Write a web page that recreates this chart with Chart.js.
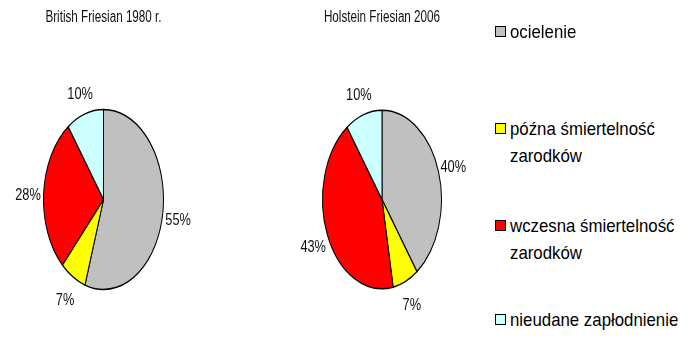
<!DOCTYPE html>
<html><head><meta charset="utf-8">
<script src="https://cdn.jsdelivr.net/npm/chart.js@4/dist/chart.umd.min.js"></script>
<style>
html,body{margin:0;padding:0;background:#fff;width:695px;height:347px;overflow:hidden;}
#wrap{position:relative;width:695px;height:347px;}
canvas{position:absolute;}
.title{position:absolute;top:8px;font-family:"Liberation Sans",Arial,sans-serif;font-size:16px;color:#111;text-align:center;white-space:nowrap;transform:scaleX(0.73);transform-origin:center;}
.leg{position:absolute;left:495px;font-family:"Liberation Sans",Arial,sans-serif;font-size:19px;line-height:27px;color:#000;}
.leg .box{position:absolute;left:0;top:8px;width:9px;height:9px;border:1px solid #000;}
.leg .txt{position:absolute;left:15px;white-space:nowrap;transform:scaleX(0.885);transform-origin:left;}
</style></head>
<body><div id="wrap">
<canvas id="c1" width="207" height="347" style="left:0;top:0;width:207px;height:347px"></canvas>
<canvas id="c2" width="202" height="347" style="left:281px;top:0;width:202px;height:347px"></canvas>
<div class="title" id="t1" style="left:0;width:207px"></div>
<div class="title" id="t2" style="left:281px;width:202px"></div>
</div>
<script>
const categories = ["ocielenie", "późna śmiertelność zarodków", "wczesna śmiertelność zarodków", "nieudane zapłodnienie"];
const legendLines = [["ocielenie"], ["późna śmiertelność", "zarodków"], ["wczesna śmiertelność", "zarodków"], ["nieudane zapłodnienie"]];
const titles = ["British Friesian 1980 r.", "Holstein Friesian 2006"];
const values1980 = [55, 7, 28, 10];
const values2006 = [40, 7, 43, 10];
const colors = ["#C0C0C0", "#FFFF00", "#FF0000", "#CCFFFF"];

const STRETCH_Y = 1.5;
const LABEL_K = 1.26;

const ellipsePlugin = {
  id: 'ellipse',
  beforeDatasetsDraw(chart) {
    const meta = chart.getDatasetMeta(0);
    const a = meta.data[0];
    const ctx = chart.ctx;
    ctx.save();
    ctx.translate(a.x, a.y);
    ctx.scale(1, STRETCH_Y);
    ctx.translate(-a.x, -a.y);
  },
  afterDatasetsDraw(chart) {
    chart.ctx.restore();
    const meta = chart.getDatasetMeta(0);
    const ctx = chart.ctx;
    const data = chart.data.datasets[0].data;
    ctx.save();
    ctx.font = '16px "Liberation Sans",Arial,sans-serif';
    ctx.fillStyle = '#111';
    ctx.textAlign = 'center';
    ctx.textBaseline = 'middle';
    meta.data.forEach((arc, i) => {
      const mid = (arc.startAngle + arc.endAngle) / 2;
      const rx = arc.outerRadius, ry = arc.outerRadius * STRETCH_Y;
      const x = arc.x + rx * LABEL_K * Math.cos(mid);
      const y = arc.y + ry * LABEL_K * Math.sin(mid) + 3;
      ctx.save();
      ctx.translate(x, y);
      ctx.scale(0.8, 1);
      ctx.fillText(data[i] + '%', 0, 0);
      ctx.restore();
    });
    ctx.restore();
  }
};

function makePie(id, values, padL, padR) {
  new Chart(document.getElementById(id), {
    type: 'pie',
    data: { labels: categories, datasets: [{ data: values, backgroundColor: colors, borderColor: '#000', borderWidth: 1 }] },
    options: {
      responsive: false, animation: false,
      layout: { padding: { top: 139, bottom: 87, left: padL, right: padR } },
      plugins: { legend: { display: false }, tooltip: { enabled: false }, title: { display: false } },
      events: []
    },
    plugins: [ellipsePlugin]
  });
}
makePie('c1', values1980, 43, 43);
makePie('c2', values2006, 41, 41);

document.getElementById('t1').textContent = titles[0];
document.getElementById('t2').textContent = titles[1];

const legTops = [18, 115, 212, 306];
const wrap = document.getElementById('wrap');
categories.forEach((c, i) => {
  const d = document.createElement('div');
  d.className = 'leg';
  d.style.top = legTops[i] + 'px';
  const b = document.createElement('div'); b.className = 'box'; b.style.background = colors[i];
  const t = document.createElement('div'); t.className = 'txt';
  t.innerHTML = legendLines[i].join('<br>');
  d.appendChild(b); d.appendChild(t);
  wrap.appendChild(d);
});
</script>
</body></html>
